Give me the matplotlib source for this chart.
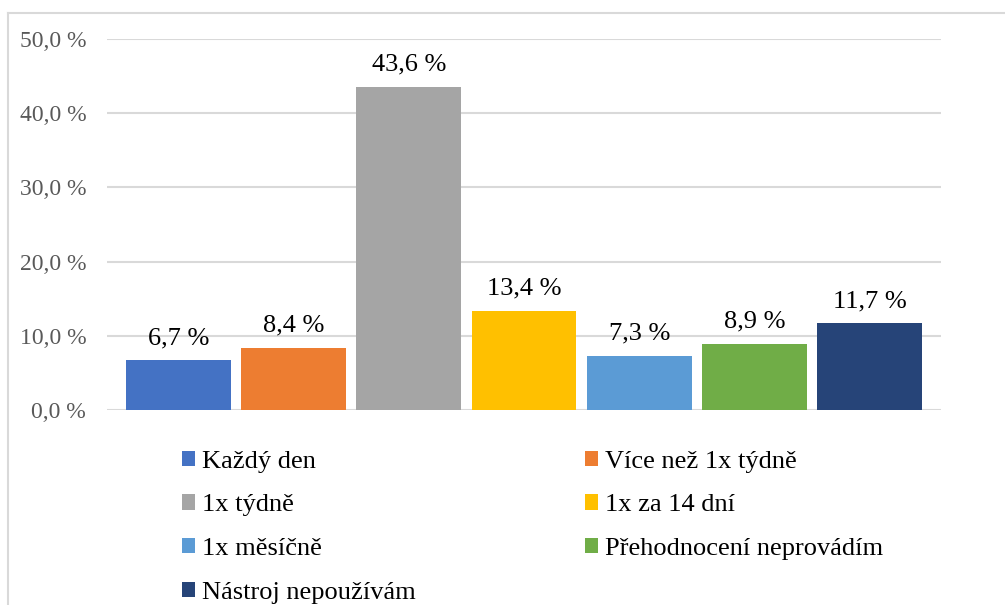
import matplotlib
matplotlib.use("Agg")
from matplotlib import pyplot as plt
from matplotlib.patches import Patch
from matplotlib.lines import Line2D

# Data
categories = ["Každý den", "Více než 1x týdně", "1x týdně", "1x za 14 dní",
              "1x měsíčně", "Přehodnocení neprovádím", "Nástroj nepoužívám"]
values = [6.7, 8.4, 43.6, 13.4, 7.3, 8.9, 11.7]
colors = ["#4472C4", "#ED7D31", "#A5A5A5", "#FFC000", "#5B9BD5", "#70AD47", "#264478"]
yticks = [0, 10, 20, 30, 40, 50]

plt.rcParams["font.family"] = ["Liberation Serif", "DejaVu Serif"]

fig = plt.figure(figsize=(10.05, 6.05), dpi=100)
ax = fig.add_axes([0.1065, 0.3223, 0.8298, 0.6132])

x = list(range(len(values)))
bars = ax.bar(x, values, width=0.91, color=colors, zorder=3)
ax.bar_label(bars, labels=[f"{v:.1f} %".replace(".", ",") for v in values],
             padding=8, fontsize=19, color="black", zorder=4)

ax.set_xlim(-0.62, len(values) - 0.38)
ax.set_ylim(0, 50)
ax.set_yticks(yticks)
ax.set_yticklabels([f"{t:.1f} %".replace(".", ",") for t in yticks],
                   fontsize=17, color="#595959")
ax.set_xticks([])
ax.tick_params(axis="y", length=0, pad=15)
ax.grid(axis="y", color="#D9D9D9", linewidth=1.5, zorder=0)
for s in ax.spines.values():
    s.set_visible(False)

# legend, filled row by row like the original
handles = [Patch(facecolor=c) for c in colors]
order = [0, 2, 4, 6, 1, 3, 5]
fig.legend([handles[i] for i in order], [categories[i] for i in order],
           ncol=2, loc="upper left", bbox_to_anchor=(0.181, 0.255),
           frameon=False, fontsize=19, handlelength=0.5, handleheight=0.5,
           handletextpad=0.27, labelspacing=0.82, columnspacing=6.4,
           borderpad=0, borderaxespad=0)

# outer chart frame
fig.add_artist(Line2D([8 / 1005, 1.0], [1 - 13 / 605, 1 - 13 / 605],
                      color="#D9D9D9", linewidth=1.5))
fig.add_artist(Line2D([8 / 1005, 8 / 1005], [0, 1 - 13 / 605],
                      color="#D9D9D9", linewidth=1.5))

plt.savefig("out.png", dpi=100)
